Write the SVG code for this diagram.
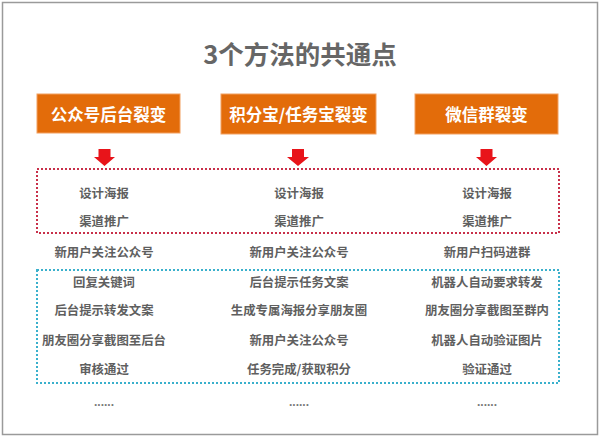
<svg xmlns="http://www.w3.org/2000/svg" width="600" height="438" viewBox="0 0 600 438">
<style>
.t{font-family:"Noto Sans CJK SC","Noto Sans",sans-serif;font-size:12.4px;font-weight:bold;fill:#5f5f5f;text-anchor:middle;dominant-baseline:central}
.h{font-family:"Noto Sans CJK SC","Noto Sans",sans-serif;font-size:16.5px;font-weight:bold;fill:#ffffff;text-anchor:middle;dominant-baseline:central}
.box{fill:#E36C0A;stroke:#F2A060;stroke-width:1}
.arr{fill:#E8141A}
.dots{font-family:"Liberation Sans",sans-serif;font-size:12px;font-weight:bold;fill:#7a7a7a;text-anchor:middle;dominant-baseline:central}
</style>
<rect x="0" y="0" width="600" height="438" fill="#ffffff"/>
<rect x="2.5" y="2.5" width="595" height="432" fill="none" stroke="#9a9a9a" stroke-width="1.5"/>
<text x="300" y="52" font-family="'Noto Sans CJK SC','Noto Sans',sans-serif" font-size="25.5" font-weight="bold" fill="#666666" text-anchor="middle" dominant-baseline="central">3个方法的共通点</text>

<g id="group-red">
<rect x="37" y="169" width="522" height="64" fill="none" stroke="#C8304A" stroke-width="2" stroke-dasharray="2 2"/>
</g>
<g id="group-blue">
<rect x="37" y="270" width="522" height="113" fill="none" stroke="#3AB0CC" stroke-width="2" stroke-dasharray="2 2"/>
</g>

<g id="head1"><rect class="box" x="37" y="94" width="143" height="39"/><text class="h" x="108.5" y="114">公众号后台裂变</text></g>
<g id="head2"><rect class="box" x="221" y="94" width="155" height="40"/><text class="h" x="298.5" y="114">积分宝/任务宝裂变</text></g>
<g id="head3"><rect class="box" x="415" y="94" width="143" height="40"/><text class="h" x="486.5" y="114">微信群裂变</text></g>

<g id="connectors">
<polygon class="arr" points="98.5,149 110.5,149 110.5,157 115,157 104.5,166 94,157 98.5,157"/>
<polygon class="arr" points="292,149 304,149 304,157 309,157 298,166 287,157 292,157"/>
<polygon class="arr" points="480.5,149 492.5,149 492.5,157 497,157 486.5,166 476,157 480.5,157"/>
</g>

<g id="col1">
<text class="t" x="104" y="193">设计海报</text>
<text class="t" x="104" y="221">渠道推广</text>
<text class="t" x="104" y="252">新用户关注公众号</text>
<text class="t" x="104" y="282">回复关键词</text>
<text class="t" x="104" y="310">后台提示转发文案</text>
<text class="t" x="104" y="340">朋友圈分享截图至后台</text>
<text class="t" x="104" y="369">审核通过</text>
<text class="dots" x="104" y="402">......</text>
</g>
<g id="col2">
<text class="t" x="299" y="193">设计海报</text>
<text class="t" x="299" y="221">渠道推广</text>
<text class="t" x="299" y="252">新用户关注公众号</text>
<text class="t" x="299" y="282">后台提示任务文案</text>
<text class="t" x="299" y="310">生成专属海报分享朋友圈</text>
<text class="t" x="299" y="340">新用户关注公众号</text>
<text class="t" x="299" y="369">任务完成/获取积分</text>
<text class="dots" x="299" y="402">......</text>
</g>
<g id="col3">
<text class="t" x="487" y="193">设计海报</text>
<text class="t" x="487" y="221">渠道推广</text>
<text class="t" x="487" y="252">新用户扫码进群</text>
<text class="t" x="487" y="282">机器人自动要求转发</text>
<text class="t" x="487" y="310">朋友圈分享截图至群内</text>
<text class="t" x="487" y="340">机器人自动验证图片</text>
<text class="t" x="487" y="369">验证通过</text>
<text class="dots" x="487" y="402">......</text>
</g>
</svg>
